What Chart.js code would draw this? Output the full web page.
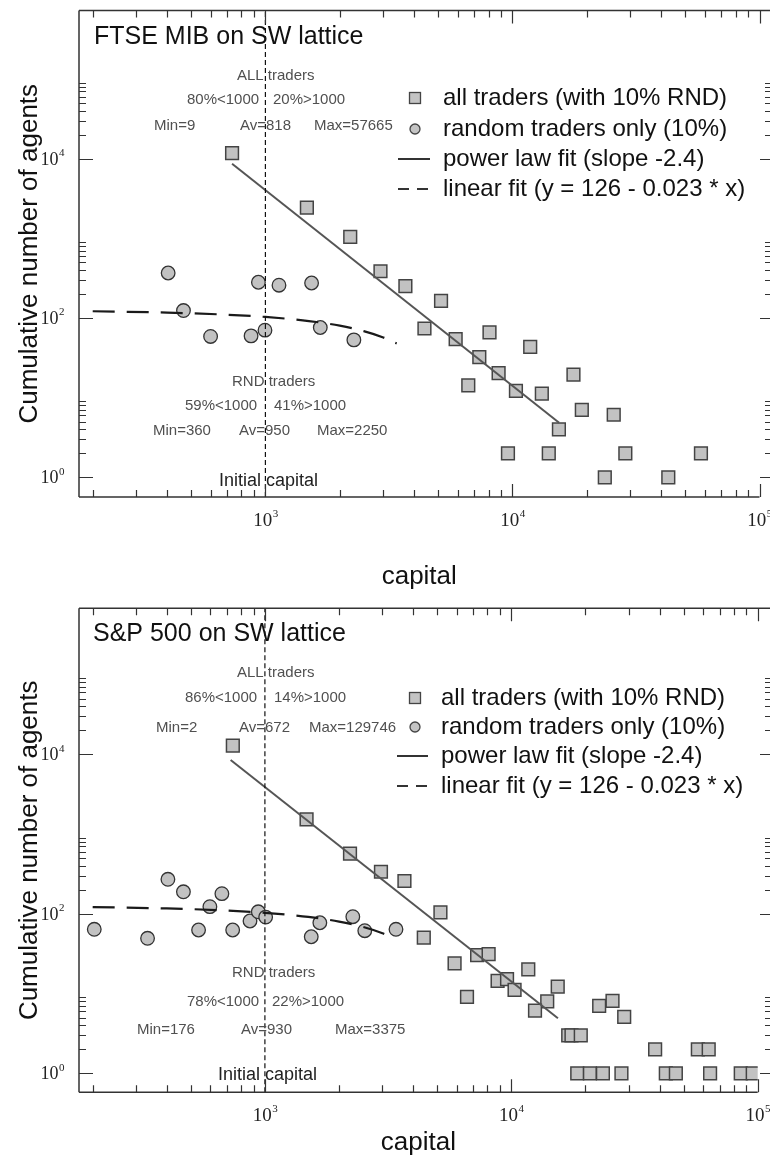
<!DOCTYPE html>
<html>
<head>
<meta charset="utf-8">
<script src="https://cdn.jsdelivr.net/npm/chart.js@4.4.1/dist/chart.umd.min.js"></script>
<style>
html, body { margin: 0; padding: 0; background: #fff; }
#wrap { position: relative; width: 770px; height: 1156px; overflow: hidden; background: #fff; }
canvas { position: absolute; left: 0; }
#c1 { top: 0; }
#c2 { top: 590px; }
</style>
</head>
<body>
<div id="wrap">
  <canvas id="c1" width="770" height="590"></canvas>
  <canvas id="c2" width="770" height="566"></canvas>
</div>
<script>
// ---------------- DATA ----------------
const xAxisTitle = 'capital';
const yAxisTitle = 'Cumulative number of agents';
const legendLabels = [
  'all traders (with 10% RND)',
  'random traders only (10%)',
  'power law fit (slope -2.4)',
  'linear fit (y = 126 - 0.023 * x)'
];
const initialCapital = 1000;
const initialCapitalLabel = 'Initial capital';

const xTickMajor = [1e3, 1e4, 1e5];
const xTickMajorExp = ['3', '4', '5'];
const xTickMinor = [200, 300, 400, 500, 600, 700, 800, 900,
  2000, 3000, 4000, 5000, 6000, 7000, 8000, 9000,
  20000, 30000, 40000, 50000, 60000, 70000, 80000, 90000];
const yTickMajor = [1, 100, 1e4];
const yTickMajorExp = ['0', '2', '4'];
const yTickMinor = [2, 3, 4, 5, 6, 7, 8, 9,
  200, 300, 400, 500, 600, 700, 800, 900,
  20000, 30000, 40000, 50000, 60000, 70000, 80000, 90000];

// FTSE MIB panel
const ftseTitle = 'FTSE MIB on SW lattice';
const ftseAllX = [733, 1472, 2205, 2923, 3687, 5140, 4404, 5890, 8075, 7343, 11800, 8790, 6626, 10330, 17660, 13150, 19090, 25700, 15420, 9590, 14030, 28640, 57940, 23650, 42740];
const ftseAllY = [11750, 2430, 1040, 386, 251, 164, 73.8, 54.2, 65.8, 32.2, 43.4, 20.3, 14.3, 12.2, 19.4, 11.2, 7.0, 6.1, 4.0, 2, 2, 2, 2, 1, 1];
const ftseRndX = [404, 466, 600, 875, 937, 996, 1135, 1538, 1668, 2281];
const ftseRndY = [367, 124, 58.6, 59.6, 281, 70.3, 258, 275, 76, 53.1];
const ftsePowX = [733, 15450];
const ftsePowY = [8650, 4.84];
const ftseLinX = [200, 400, 700, 1000, 1500, 2000, 2500, 3000, 3400];
const ftseLinY = [121.4, 116.8, 109.9, 103.0, 91.5, 80.0, 68.5, 57.0, 47.8];
const ftseNotes = ['ALL traders', '80%<1000', '20%>1000', 'Min=9', 'Av=818', 'Max=57665',
                   'RND traders', '59%<1000', '41%>1000', 'Min=360', 'Av=950', 'Max=2250'];

// S&P 500 panel
const spTitle = 'S&P 500 on SW lattice';
const spAllX = [741, 1476, 2215, 2958, 3684, 5157, 4414, 5886, 7266, 8090, 11720, 8797, 9610, 10310, 6610, 15430, 13990, 12480, 22730, 25750, 28720, 17020, 17550, 19140, 38350, 57150, 63260, 18520, 20850, 23540, 27990, 42370, 46540, 64090, 85350, 95460];
const spAllY = [12820, 1531, 567, 337, 258, 104.4, 50.2, 23.9, 30.4, 31.3, 20.1, 14.4, 15.2, 11.1, 9.1, 12.2, 8.0, 6.1, 7.0, 8.1, 5.1, 3, 3, 3, 2, 2, 2, 1, 1, 1, 1, 1, 1, 1, 1, 1];
const spRndX = [203, 334, 404, 467, 538, 598, 669, 740, 870, 940, 1007, 1542, 1671, 2274, 2543, 3404];
const spRndY = [64, 49.3, 271, 189, 62.7, 123, 179, 62.7, 81.3, 106, 91, 51.6, 77.3, 92, 61.4, 64];
const spPowX = [726, 15460];
const spPowY = [8480, 4.9];
const spLinX = [200, 400, 700, 1000, 1500, 2000, 2500, 3000, 3350];
const spLinY = [121.4, 116.8, 109.9, 103.0, 91.5, 80.0, 68.5, 57.0, 49.0];
const spNotes = ['ALL traders', '86%<1000', '14%>1000', 'Min=2', 'Av=672', 'Max=129746',
                 'RND traders', '78%<1000', '22%>1000', 'Min=176', 'Av=930', 'Max=3375'];

// ---------------- STYLE / LAYOUT ----------------
const SANS = "'Liberation Sans', Arial, Helvetica, sans-serif";
const SERIF = "'Liberation Serif', 'Times New Roman', serif";
const X_MIN = 176, X_MAX = 1e5;

function zip(xs, ys) { return xs.map((x, i) => ({ x: x, y: ys[i] })); }

function drawPow(ctx, base, exp, x, baseline, align, bs, es) {
  ctx.font = bs + 'px ' + SERIF;
  const wb = ctx.measureText(base).width;
  ctx.font = es + 'px ' + SERIF;
  const we = ctx.measureText(exp).width;
  const total = wb + we;
  const x0 = align === 'right' ? x - total : (align === 'center' ? x - total / 2 : x);
  ctx.textAlign = 'left';
  ctx.textBaseline = 'alphabetic';
  ctx.fillStyle = '#222';
  ctx.font = bs + 'px ' + SERIF;
  ctx.fillText(base, x0, baseline);
  ctx.font = es + 'px ' + SERIF;
  ctx.fillText(exp, x0 + wb + 0.5, baseline - bs * 0.48);
}

const decorPlugin = {
  id: 'decor',
  afterDatasetsDraw(chart) {
    const p = chart.options.plugins.decor;
    const ctx = chart.ctx;
    const a = chart.chartArea;
    const xs = chart.scales.x, ys = chart.scales.y;
    const W = chart.width;
    ctx.save();
    // frame
    ctx.strokeStyle = '#333';
    ctx.lineWidth = 1.5;
    ctx.beginPath();
    ctx.moveTo(a.left, a.top); ctx.lineTo(a.left, a.bottom);
    ctx.moveTo(a.left, a.bottom); ctx.lineTo(a.right, a.bottom);
    ctx.moveTo(a.left, a.top); ctx.lineTo(W, a.top);
    ctx.stroke();
    // x ticks (bottom + top, inward)
    ctx.lineWidth = 1.2;
    ctx.beginPath();
    xTickMajor.forEach(v => {
      const px = Math.round(xs.getPixelForValue(v)) + 0.5;
      ctx.moveTo(px, a.bottom); ctx.lineTo(px, a.bottom - 13);
      ctx.moveTo(px, a.top); ctx.lineTo(px, a.top + 13);
    });
    xTickMinor.forEach(v => {
      const px = Math.round(xs.getPixelForValue(v)) + 0.5;
      ctx.moveTo(px, a.bottom); ctx.lineTo(px, a.bottom - 7);
      ctx.moveTo(px, a.top); ctx.lineTo(px, a.top + 7);
    });
    // y ticks (left inward, right edge)
    yTickMajor.forEach(v => {
      const py = Math.round(ys.getPixelForValue(v)) + 0.5;
      ctx.moveTo(a.left, py); ctx.lineTo(a.left + 14, py);
      ctx.moveTo(W, py); ctx.lineTo(W - 10, py);
    });
    yTickMinor.forEach(v => {
      const py = Math.round(ys.getPixelForValue(v)) + 0.5;
      ctx.moveTo(a.left, py); ctx.lineTo(a.left + 7, py);
      ctx.moveTo(W, py); ctx.lineTo(W - 5, py);
    });
    ctx.stroke();
    // tick labels
    xTickMajor.forEach((v, i) => {
      drawPow(ctx, '10', xTickMajorExp[i], xs.getPixelForValue(v), a.bottom + 29, 'center', 19, 11);
    });
    yTickMajor.forEach((v, i) => {
      drawPow(ctx, '10', yTickMajorExp[i], a.left - 15, ys.getPixelForValue(v) + 6, 'right', 18, 11);
    });
    // panel title
    ctx.fillStyle = '#111';
    ctx.textAlign = 'left';
    ctx.textBaseline = 'middle';
    ctx.font = '25px ' + SANS;
    ctx.fillText(p.title, p.titlePos[0], p.titlePos[1]);
    // notes
    ctx.font = '15px ' + SANS;
    ctx.fillStyle = '#505050';
    p.notes.forEach((t, i) => {
      ctx.fillText(t, p.notePos[i][0], p.notePos[i][1]);
    });
    ctx.font = '18px ' + SANS;
    ctx.fillStyle = '#222';
    ctx.fillText(initialCapitalLabel, p.initPos[0], p.initPos[1]);
    // legend
    const lg = p.legend;
    ctx.font = '24px ' + SANS;
    ctx.fillStyle = '#111';
    legendLabels.forEach((t, i) => ctx.fillText(t, lg.textX, lg.rows[i]));
    ctx.fillStyle = '#c4c4c4';
    ctx.strokeStyle = '#444';
    ctx.lineWidth = 1.3;
    ctx.fillRect(lg.markX - 5.5, lg.rows[0] - 5.5, 11, 11);
    ctx.strokeRect(lg.markX - 5.5, lg.rows[0] - 5.5, 11, 11);
    ctx.beginPath();
    ctx.arc(lg.markX, lg.rows[1], 5, 0, Math.PI * 2);
    ctx.fill(); ctx.stroke();
    ctx.strokeStyle = '#333';
    ctx.lineWidth = 2;
    ctx.beginPath();
    ctx.moveTo(lg.lineX0, lg.rows[2]); ctx.lineTo(lg.lineX1, lg.rows[2]);
    ctx.stroke();
    ctx.setLineDash([11, 8]);
    ctx.beginPath();
    ctx.moveTo(lg.lineX0, lg.rows[3]); ctx.lineTo(lg.lineX1, lg.rows[3]);
    ctx.stroke();
    ctx.setLineDash([]);
    ctx.restore();
  }
};

function makeChart(id, cfg) {
  return new Chart(document.getElementById(id), {
    type: 'scatter',
    data: {
      datasets: [
        { label: initialCapitalLabel, data: [{ x: initialCapital, y: cfg.yMin }, { x: initialCapital, y: cfg.yMax }],
          showLine: true, borderColor: '#111', borderWidth: 1.2, borderDash: [5, 3], pointRadius: 0 },
        { label: legendLabels[3], data: zip(cfg.linX, cfg.linY), showLine: true, borderColor: '#1a1a1a',
          borderWidth: 2.2, borderDash: [22, 12], pointRadius: 0, cubicInterpolationMode: 'monotone' },
        { label: legendLabels[2], data: zip(cfg.powX, cfg.powY), showLine: true, borderColor: '#555',
          borderWidth: 2, pointRadius: 0 },
        { label: legendLabels[1], data: zip(cfg.rndX, cfg.rndY), showLine: false, pointStyle: 'circle',
          pointRadius: 6.8, backgroundColor: '#c2c2c2', borderColor: '#333', borderWidth: 1.3 },
        { label: legendLabels[0], data: zip(cfg.allX, cfg.allY), showLine: false, pointStyle: 'rect',
          pointRadius: 9, backgroundColor: '#c2c2c2', borderColor: '#444', borderWidth: 1.5 }
      ]
    },
    options: {
      responsive: false,
      animation: false,
      devicePixelRatio: 1,
      layout: { padding: { top: cfg.padTop, right: cfg.padRight, left: 0, bottom: 0 } },
      plugins: { legend: { display: false }, tooltip: { enabled: false }, decor: cfg.decor },
      scales: {
        x: {
          type: 'logarithmic', min: X_MIN, max: X_MAX,
          grid: { display: false }, border: { display: false }, ticks: { display: false },
          title: { display: true, text: xAxisTitle, color: '#111',
            font: { family: SANS, size: 26, lineHeight: 1 }, padding: { top: 0, bottom: cfg.xTitlePad } },
          afterFit(s) { s.height = cfg.xAxisH; }
        },
        y: {
          type: 'logarithmic', min: cfg.yMin, max: cfg.yMax,
          grid: { display: false }, border: { display: false }, ticks: { display: false },
          title: { display: true, text: yAxisTitle, color: '#111',
            font: { family: SANS, size: 26, lineHeight: 1 }, padding: { top: 17, bottom: 0 } },
          afterFit(s) { s.width = 79; }
        }
      }
    },
    plugins: [decorPlugin]
  });
}

makeChart('c1', {
  allX: ftseAllX, allY: ftseAllY, rndX: ftseRndX, rndY: ftseRndY,
  powX: ftsePowX, powY: ftsePowY, linX: ftseLinX, linY: ftseLinY,
  yMin: 0.566, yMax: 7.24e5, padTop: 10, padRight: 9, xAxisH: 93, xTitlePad: 0,
  decor: {
    title: ftseTitle, titlePos: [94, 37],
    notes: ftseNotes,
    notePos: [[237, 76], [187, 100], [273, 100], [154, 126], [240, 126], [314, 126],
              [232, 382], [185, 406], [274, 406], [153, 431], [239, 431], [317, 431]],
    initPos: [219, 481],
    legend: { markX: 415, textX: 443, lineX0: 398, lineX1: 430, rows: [98, 129, 159, 189] }
  }
});

makeChart('c2', {
  allX: spAllX, allY: spAllY, rndX: spRndX, rndY: spRndY,
  powX: spPowX, powY: spPowY, linX: spLinX, linY: spLinY,
  yMin: 0.578, yMax: 6.78e5, padTop: 18.3, padRight: 12.3, xAxisH: 63.7, xTitlePad: 0,
  decor: {
    title: spTitle, titlePos: [93, 44],
    notes: spNotes,
    notePos: [[237, 83], [185, 108], [274, 108], [156, 138], [239, 138], [309, 138],
              [232, 383], [187, 412], [272, 412], [137, 440], [241, 440], [335, 440]],
    initPos: [218, 485],
    legend: { markX: 415, textX: 441, lineX0: 397, lineX1: 428, rows: [108, 137, 166, 196] }
  }
});
</script>
</body>
</html>
